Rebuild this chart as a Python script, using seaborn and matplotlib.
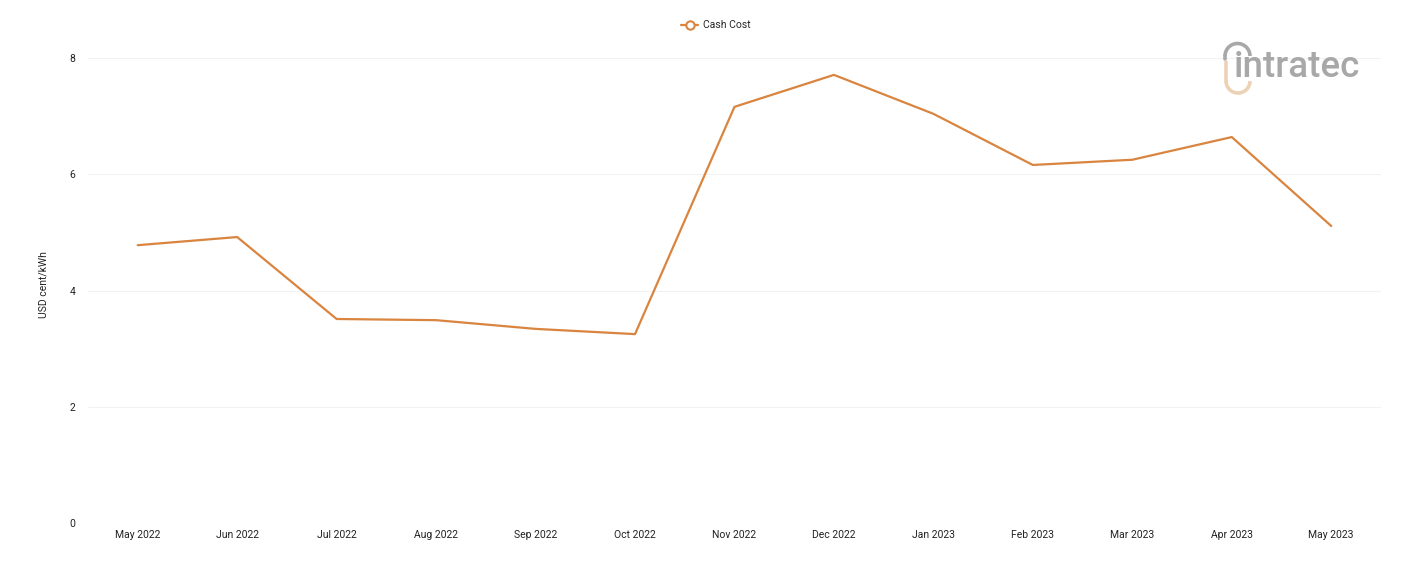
import matplotlib
matplotlib.use("Agg")
import matplotlib.pyplot as plt
import seaborn as sns
import pandas as pd
from matplotlib.patches import Arc
from matplotlib.lines import Line2D

months = ["May 2022", "Jun 2022", "Jul 2022", "Aug 2022", "Sep 2022", "Oct 2022",
          "Nov 2022", "Dec 2022", "Jan 2023", "Feb 2023", "Mar 2023", "Apr 2023", "May 2023"]
cash_cost = [4.78, 4.92, 3.51, 3.49, 3.34, 3.25, 7.16, 7.71, 7.04, 6.16, 6.25, 6.64, 5.11]
y_ticks = [0, 2, 4, 6, 8]

sns.set_theme(style="white")
plt.rcParams['font.family'] = ['Roboto', 'DejaVu Sans']

color = "#D9843F"
df = pd.DataFrame({"month": months, "value": cash_cost})

W, H = 1401, 561
fig = plt.figure(figsize=(W / 100, H / 100), dpi=100)
ax = fig.add_axes([0.0628, 0.0677, 0.9229, 0.8496])

sns.lineplot(data=df, x="month", y="value", ax=ax, color=color, linewidth=1.6,
             sort=False, legend=False)

ax.set_xlim(-0.5, len(months) - 0.5)
ax.set_ylim(0, 8.2)
ax.set_yticks(y_ticks)
ax.set_yticklabels([str(t) for t in y_ticks])
ax.grid(axis="y", color="#f2f2f2", linewidth=0.8)
ax.grid(axis="x", visible=False)
for s in ax.spines.values():
    s.set_visible(False)
ax.tick_params(axis="both", labelsize=7.5, colors="#222222", length=0)
ax.tick_params(axis="x", pad=5)
ax.tick_params(axis="y", pad=9)
ax.set_xlabel("")
ax.set_ylabel("USD cent/kWh", fontsize=7.5, color="#222222", labelpad=15)

h = Line2D([0], [0], color=color, linewidth=1.6, marker="o", markersize=6,
           markerfacecolor="white", markeredgecolor=color, markeredgewidth=1.5)
fig.legend([h], ["Cash Cost"], loc="center", bbox_to_anchor=(716 / W, 0.955),
           frameon=False, fontsize=7.5, handlelength=1.6, handletextpad=0.5)

# logo
def fx(x):
    return x / W

def fy(y):
    return 1 - y / H

grey = "#a8a8a8"
tan = "#ecd2b5"
fig.text(fx(1234), fy(77), "intratec", fontsize=26.5, color=grey, fontweight="medium",
         ha="left", va="baseline", family=["Roboto", "DejaVu Sans"])
fig.patches.append(Arc((fx(1237.5), fy(56)), 25 / W, 25 / H, theta1=0, theta2=180,
                       transform=fig.transFigure, color=grey, linewidth=2.6))
fig.lines.append(Line2D([fx(1225), fx(1225)], [fy(56), fy(59)], transform=fig.transFigure,
                        color=grey, linewidth=2.6))
fig.lines.append(Line2D([fx(1226), fx(1226)], [fy(62), fy(81)], transform=fig.transFigure,
                        color=tan, linewidth=2.6))
fig.patches.append(Arc((fx(1238), fy(81)), 24 / W, 24 / H, theta1=180, theta2=360,
                       transform=fig.transFigure, color=tan, linewidth=2.6))

fig.savefig("out.png", dpi=100, facecolor="white")
